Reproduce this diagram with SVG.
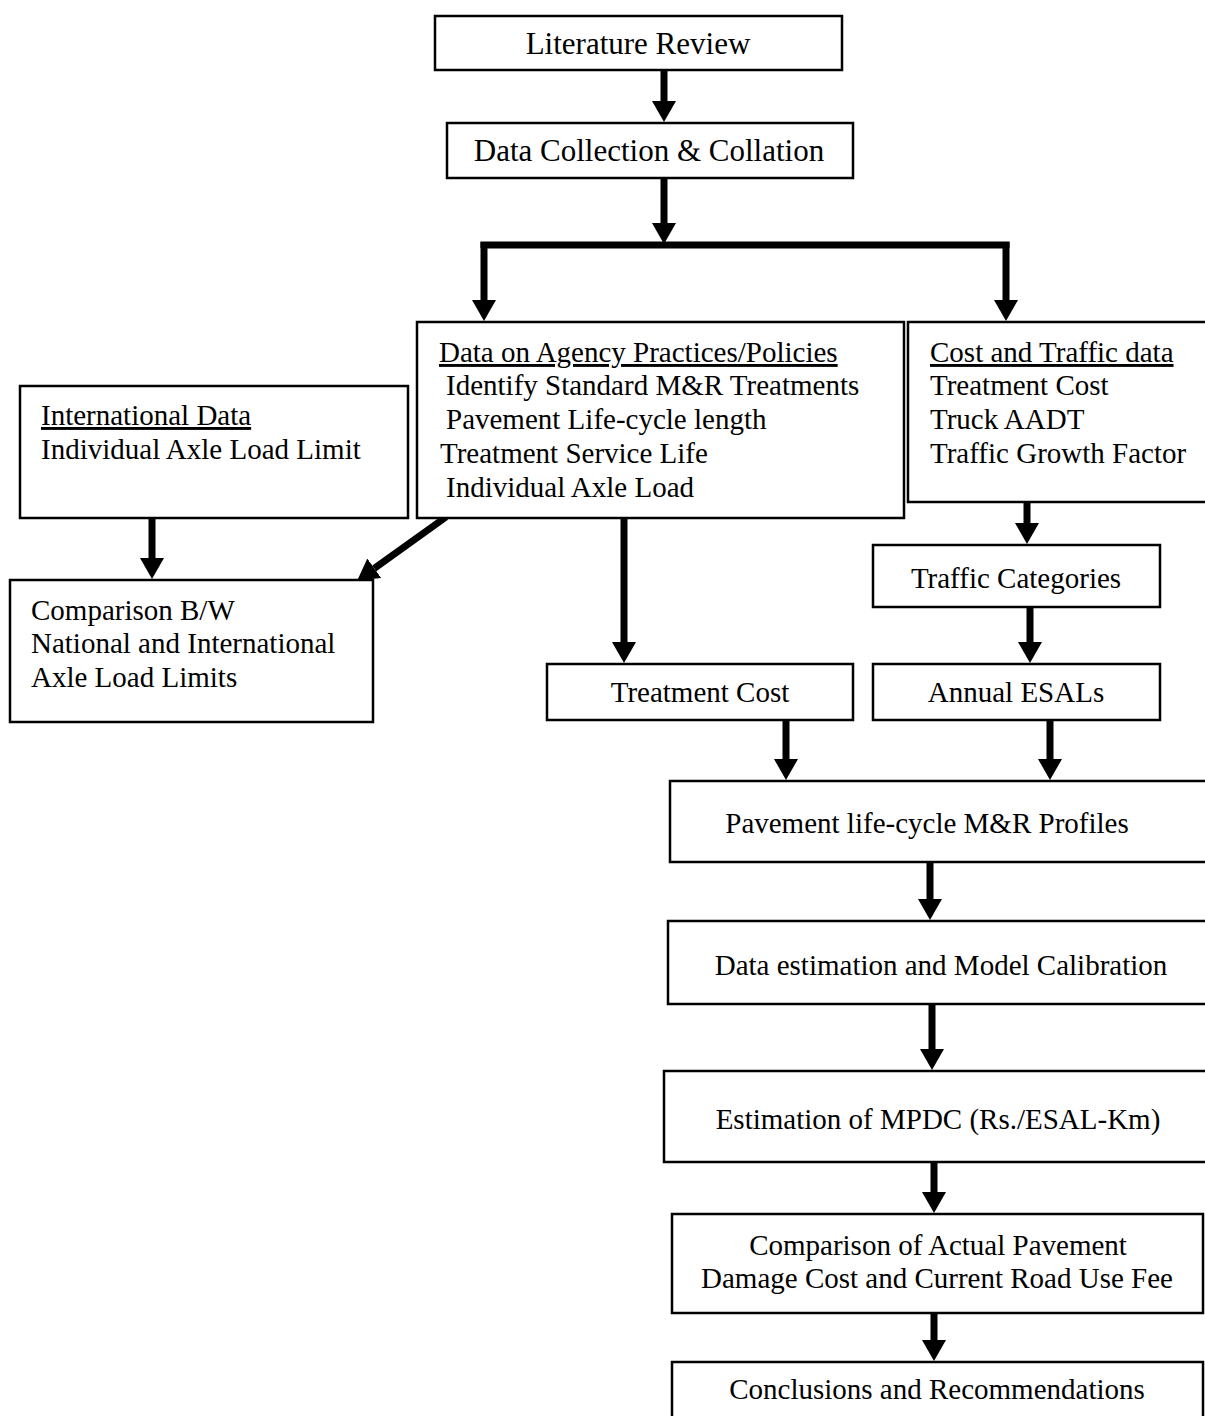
<svg xmlns="http://www.w3.org/2000/svg" width="1205" height="1416" viewBox="0 0 1205 1416">
<style>
  .box { fill: #ffffff; stroke: #000000; stroke-width: 2.5; }
  .t { font-family: "Liberation Serif", "Times New Roman", serif; font-size: 29px; fill: #000000; }
  .c { text-anchor: middle; }
  .u { text-decoration: underline; }
  .big { font-size: 31px; }
  .con { stroke: #000000; stroke-width: 7; fill: none; }
  .arr { stroke: #000000; stroke-width: 7; fill: none; marker-end: url(#head); }
</style>
<defs>
  <marker id="head" markerUnits="userSpaceOnUse" markerWidth="22" markerHeight="24" refX="0" refY="12" orient="auto" viewBox="0 0 22 24">
    <path d="M0,0 L21,12 L0,24 Z" fill="#000000"/>
  </marker>
</defs>
<rect width="1205" height="1416" fill="#ffffff"/>

<g id="connectors">
  <line class="arr" x1="664" y1="70" x2="664" y2="101"/>
  <line class="arr" x1="664" y1="178" x2="664" y2="223"/>
  <polyline class="con" points="484,248 484,245 1006,245 1006,248"/>
  <line class="arr" x1="484" y1="242" x2="484" y2="300"/>
  <line class="arr" x1="1006" y1="242" x2="1006" y2="300"/>
  <line class="arr" x1="152" y1="518" x2="152" y2="558"/>
  <line class="arr" x1="446" y1="517" x2="374.3" y2="568.3"/>
  <line class="arr" x1="624" y1="518" x2="624" y2="642"/>
  <line class="arr" x1="1027" y1="502" x2="1027" y2="523"/>
  <line class="arr" x1="1030" y1="607" x2="1030" y2="642"/>
  <line class="arr" x1="786" y1="720" x2="786" y2="759"/>
  <line class="arr" x1="1050" y1="720" x2="1050" y2="759"/>
  <line class="arr" x1="930" y1="862" x2="930" y2="899"/>
  <line class="arr" x1="932" y1="1004" x2="932" y2="1049"/>
  <line class="arr" x1="934" y1="1162" x2="934" y2="1192"/>
  <line class="arr" x1="934" y1="1313" x2="934" y2="1340"/>
</g>

<g id="literature-review">
  <rect class="box" x="435" y="16" width="407" height="54"/>
  <text class="t c big" x="638" y="54">Literature Review</text>
</g>

<g id="data-collection">
  <rect class="box" x="447" y="123" width="406" height="55"/>
  <text class="t c big" x="649" y="161">Data Collection &amp; Collation</text>
</g>

<g id="agency-practices">
  <rect class="box" x="417" y="322" width="487" height="196"/>
  <text class="t u" x="439" y="362">Data on Agency Practices/Policies</text>
  <text class="t" x="446" y="395">Identify Standard M&amp;R Treatments</text>
  <text class="t" x="446" y="429">Pavement Life-cycle length</text>
  <text class="t" x="440" y="463">Treatment Service Life</text>
  <text class="t" x="446" y="497">Individual Axle Load</text>
</g>

<g id="cost-traffic">
  <rect class="box" x="908" y="322" width="310" height="180"/>
  <text class="t u" x="930" y="362">Cost and Traffic data</text>
  <text class="t" x="930" y="395">Treatment Cost</text>
  <text class="t" x="930" y="429">Truck AADT</text>
  <text class="t" x="930" y="463">Traffic Growth Factor</text>
</g>

<g id="international-data">
  <rect class="box" x="20" y="386" width="388" height="132"/>
  <text class="t u" x="41" y="425">International Data</text>
  <text class="t" x="41" y="459">Individual Axle Load Limit</text>
</g>

<g id="comparison-bw">
  <rect class="box" x="10" y="580" width="363" height="142"/>
  <text class="t" x="31" y="620">Comparison B/W</text>
  <text class="t" x="31" y="653">National and International</text>
  <text class="t" x="31" y="687">Axle Load Limits</text>
</g>

<g id="treatment-cost">
  <rect class="box" x="547" y="664" width="306" height="56"/>
  <text class="t c" x="700" y="702">Treatment Cost</text>
</g>

<g id="traffic-categories">
  <rect class="box" x="873" y="545" width="287" height="62"/>
  <text class="t c" x="1016" y="588">Traffic Categories</text>
</g>

<g id="annual-esals">
  <rect class="box" x="873" y="664" width="287" height="56"/>
  <text class="t c" x="1016" y="702">Annual ESALs</text>
</g>

<g id="pavement-profiles">
  <rect class="box" x="670" y="781" width="545" height="81"/>
  <text class="t c" x="927" y="833">Pavement life-cycle M&amp;R Profiles</text>
</g>

<g id="data-estimation">
  <rect class="box" x="668" y="921" width="547" height="83"/>
  <text class="t c" x="941" y="975">Data estimation and Model Calibration</text>
</g>

<g id="mpdc">
  <rect class="box" x="664" y="1071" width="551" height="91"/>
  <text class="t c" x="938" y="1129">Estimation of MPDC (Rs./ESAL-Km)</text>
</g>

<g id="comparison-actual">
  <rect class="box" x="672" y="1214" width="531" height="99"/>
  <text class="t c" x="938" y="1255">Comparison of Actual  Pavement</text>
  <text class="t c" x="937" y="1288">Damage Cost and Current Road Use Fee</text>
</g>

<g id="conclusions">
  <rect class="box" x="672" y="1362" width="531" height="70"/>
  <text class="t c" x="937" y="1399">Conclusions and Recommendations</text>
</g>
</svg>
